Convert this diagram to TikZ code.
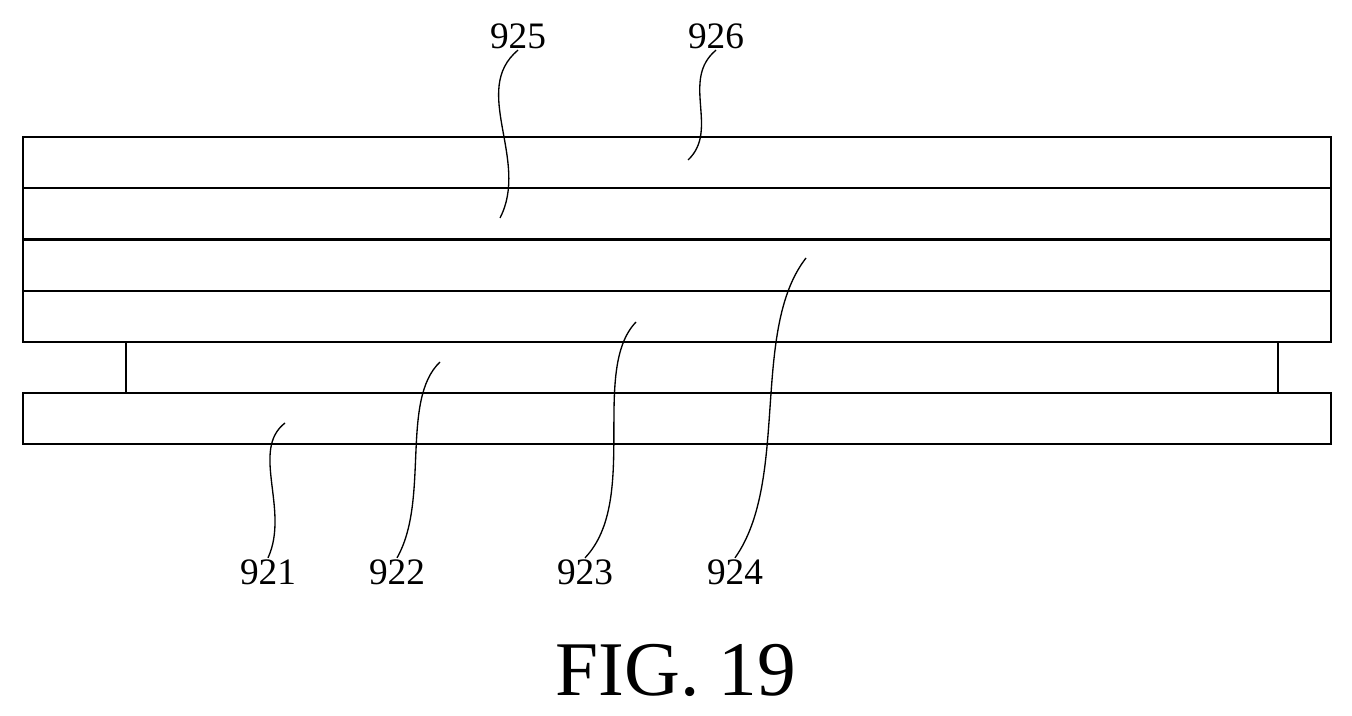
\documentclass[tikz,border=0pt]{standalone}
\usepackage{fontspec}
\setmainfont{Liberation Serif}
\usetikzlibrary{positioning}
\tikzset{
  layer/.style={draw,line width=1.4pt,minimum width=1308*0.75pt,minimum height=51*0.75pt,inner sep=0pt,anchor=north west},
  lead/.style={line width=1pt},
  num/.style={font=\fontsize{28}{30}\selectfont,inner sep=1pt}
}
\begin{document}
\begin{tikzpicture}[x=0.75pt,y=-0.75pt]
  \useasboundingbox (0,0) rectangle (1352,716);
  % layers
  \node[layer] (L926) at (22,136) {};
  \node[layer] (L925) at (22,187) {};
  \node[layer] (L924) at (22,239) {};
  \node[layer] (L923) at (22,290) {};
  \node[layer] (L921) at (22,392) {};
  % spacer
  \coordinate (s1) at (126,342);
  \coordinate (s2) at (126,392);
  \coordinate (s3) at (1278,342);
  \coordinate (s4) at (1278,392);
  \draw[line width=1.4pt] (s1) -- (s2) (s3) -- (s4);
  % labels
  \node[num] (t925) at (518,36) {925};
  \node[num] (t926) at (716,36) {926};
  \node[num] (t921) at (268,572) {921};
  \node[num] (t922) at (397,572) {922};
  \node[num] (t923) at (585,572) {923};
  \node[num] (t924) at (735,572) {924};
  \coordinate (p925) at (500,218);
  \coordinate (p926) at (688,160);
  \coordinate (p924) at (806,258);
  \coordinate (p923) at (636,322);
  \coordinate (p922) at (440,362);
  \coordinate (p921) at (285,423);
  \draw[lead] (t925.south) .. controls (470,90) and (530,160) .. (p925);
  \draw[lead] (t926.south) .. controls (680,80) and (720,130) .. (p926);
  \draw[lead] (t924.north) .. controls (790,480) and (750,330) .. (p924);
  \draw[lead] (t923.north) .. controls (640,500) and (590,370) .. (p923);
  \draw[lead] (t922.north) .. controls (430,500) and (400,400) .. (p922);
  \draw[lead] (t921.north) .. controls (290,510) and (250,450) .. (p921);
  % caption
  \node[font=\fontsize{58}{60}\selectfont] (fig) at (676,670) {FIG. 19};
\end{tikzpicture}
\end{document}
